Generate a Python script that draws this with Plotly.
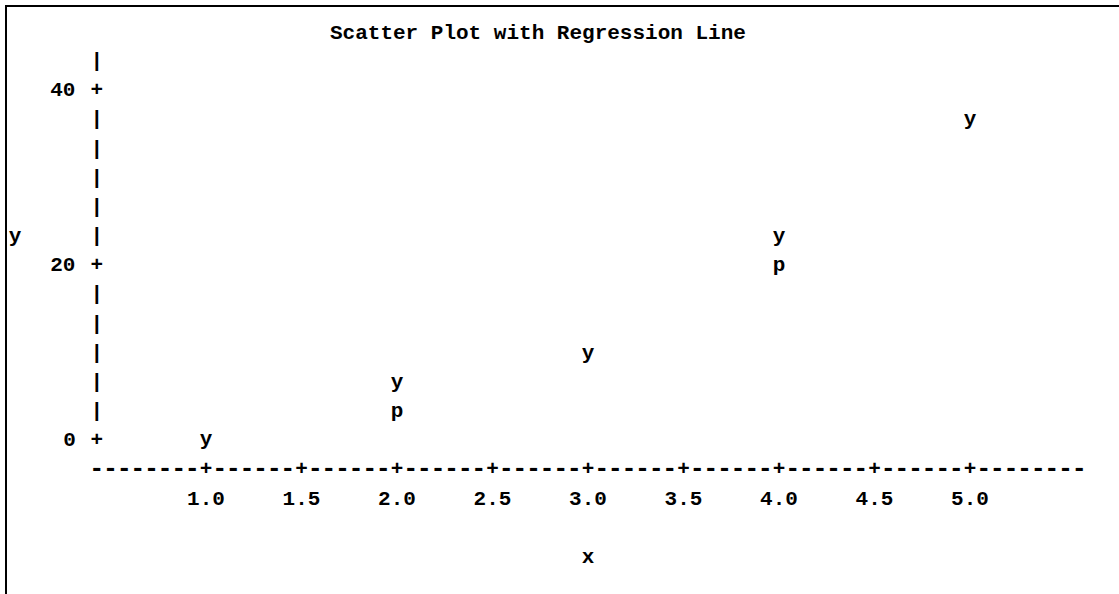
import plotly.graph_objects as go

# ---------------- data ----------------
title_text = "Scatter Plot with Regression Line"
obs_x = [1.0, 2.0, 3.0, 4.0, 5.0]
obs_y = [0.1, 6.7, 10.0, 23.3, 36.7]
pred_x = [2.0, 4.0]
pred_y = [3.4, 20.0]
x_ticks = [1.0, 1.5, 2.0, 2.5, 3.0, 3.5, 4.0, 4.5, 5.0]
x_tick_labels = ["1.0", "1.5", "2.0", "2.5", "3.0", "3.5", "4.0", "4.5", "5.0"]
y_ticks = [0, 20, 40]
y_tick_labels = ["0", "20", "40"]
x_label = "x"
y_label = "y"

# ---------------- layout constants ----------------
W, H = 1119, 594
px_x1, px_per_x = 206.0, 191.0      # pixel of x=1.0, pixels per x unit
px_y0, px_per_y = 441.0, 8.75       # pixel of y=0, pixels per y unit
x_range = [1 - px_x1 / px_per_x, 1 + (W - px_x1) / px_per_x]
y_range = [(px_y0 - H) / px_per_y, px_y0 / px_per_y]

FAM = "Liberation Mono, Courier New, monospace"
FONT = dict(family=FAM, size=21, color="black", weight="bold")
DASH_FONT = dict(family=FAM, size=25, color="black", weight="bold")

tick_step = x_ticks[1] - x_ticks[0]
char_w = tick_step / 7.0                    # one character column in x units
row_h = (y_ticks[-1] - y_ticks[0]) / 12.0   # one text row in y units
col0 = x_ticks[0] - 8 * char_w              # column of the vertical axis

fig = go.Figure()

# vertical axis: '+' at ticks, '|' elsewhere
vx, vy, vt = [], [], []
n_rows = int(round((y_ticks[-1] - y_ticks[0]) / row_h)) + 1
for k in range(0, n_rows + 1):
    v = y_ticks[0] + k * row_h
    is_tick = any(abs(v - t) < 1e-6 for t in y_ticks)
    vx.append(col0)
    vy.append(v)
    vt.append("+" if is_tick else "|")
fig.add_trace(go.Scatter(x=vx, y=vy, mode="text", text=vt, textfont=FONT,
                         textposition="middle center", hoverinfo="skip", showlegend=False))

# y tick labels
lx, ly, lt = [], [], []
for t, lab in zip(y_ticks, y_tick_labels):
    n = len(lab)
    lx.append(col0 - (2 + (n - 1) / 2.0) * char_w)
    ly.append(t)
    lt.append(lab)
fig.add_trace(go.Scatter(x=lx, y=ly, mode="text", text=lt, textfont=FONT,
                         textposition="middle center", hoverinfo="skip", showlegend=False))

# horizontal axis line of characters
px_, py_, dx_, dy_ = [], [], [], []
n_cols = int(round((x_ticks[-1] - col0) / char_w)) + 8
axis_row = y_ticks[0] - row_h
for j in range(n_cols + 1):
    xv = col0 + j * char_w
    is_tick = any(abs(xv - t) < 1e-6 for t in x_ticks)
    if is_tick:
        px_.append(xv)
        py_.append(axis_row)
    else:
        dx_.append(xv)
        dy_.append(axis_row)
fig.add_trace(go.Scatter(x=dx_, y=dy_, mode="text", text=["-"] * len(dx_), textfont=DASH_FONT,
                         textposition="middle center", hoverinfo="skip", showlegend=False))
fig.add_trace(go.Scatter(x=px_, y=py_, mode="text", text=["+"] * len(px_), textfont=FONT,
                         textposition="middle center", hoverinfo="skip", showlegend=False))

# x tick labels
fig.add_trace(go.Scatter(x=x_ticks, y=[y_ticks[0] - 2 * row_h] * len(x_ticks), mode="text",
                         text=x_tick_labels, textfont=FONT, textposition="middle center",
                         hoverinfo="skip", showlegend=False))

# axis labels
fig.add_trace(go.Scatter(x=[x_ticks[4]], y=[y_ticks[0] - 4 * row_h], mode="text",
                         text=[x_label], textfont=FONT, textposition="middle center",
                         hoverinfo="skip", showlegend=False))
fig.add_trace(go.Scatter(x=[col0 - 6 * char_w], y=[y_ticks[1] + row_h], mode="text",
                         text=[y_label], textfont=FONT, textposition="middle center",
                         hoverinfo="skip", showlegend=False))

# data: observed 'y' and predicted 'p'
fig.add_trace(go.Scatter(x=pred_x, y=pred_y, mode="text", text=["p"] * len(pred_x),
                         textfont=FONT, textposition="middle center", name="p", showlegend=False))
fig.add_trace(go.Scatter(x=obs_x, y=obs_y, mode="text", text=["y"] * len(obs_x),
                         textfont=FONT, textposition="middle center", name="y", showlegend=False))

fig.update_layout(
    width=W, height=H,
    margin=dict(l=0, r=0, t=0, b=0),
    paper_bgcolor="white", plot_bgcolor="white",
    xaxis=dict(range=x_range, visible=False, fixedrange=True),
    yaxis=dict(range=y_range, visible=False, fixedrange=True),
    showlegend=False,
    annotations=[dict(text=title_text, x=538 / W, y=1 - 33 / H, xref="paper", yref="paper",
                      xanchor="center", yanchor="middle", showarrow=False, font=FONT)],
    shapes=[
        dict(type="line", xref="paper", yref="paper", x0=5 / W, x1=1, y0=1 - 6 / H, y1=1 - 6 / H,
             line=dict(color="black", width=2)),
        dict(type="line", xref="paper", yref="paper", x0=6 / W, x1=6 / W, y0=0, y1=1 - 6 / H,
             line=dict(color="black", width=2)),
    ],
)

fig.write_html("out.html")
